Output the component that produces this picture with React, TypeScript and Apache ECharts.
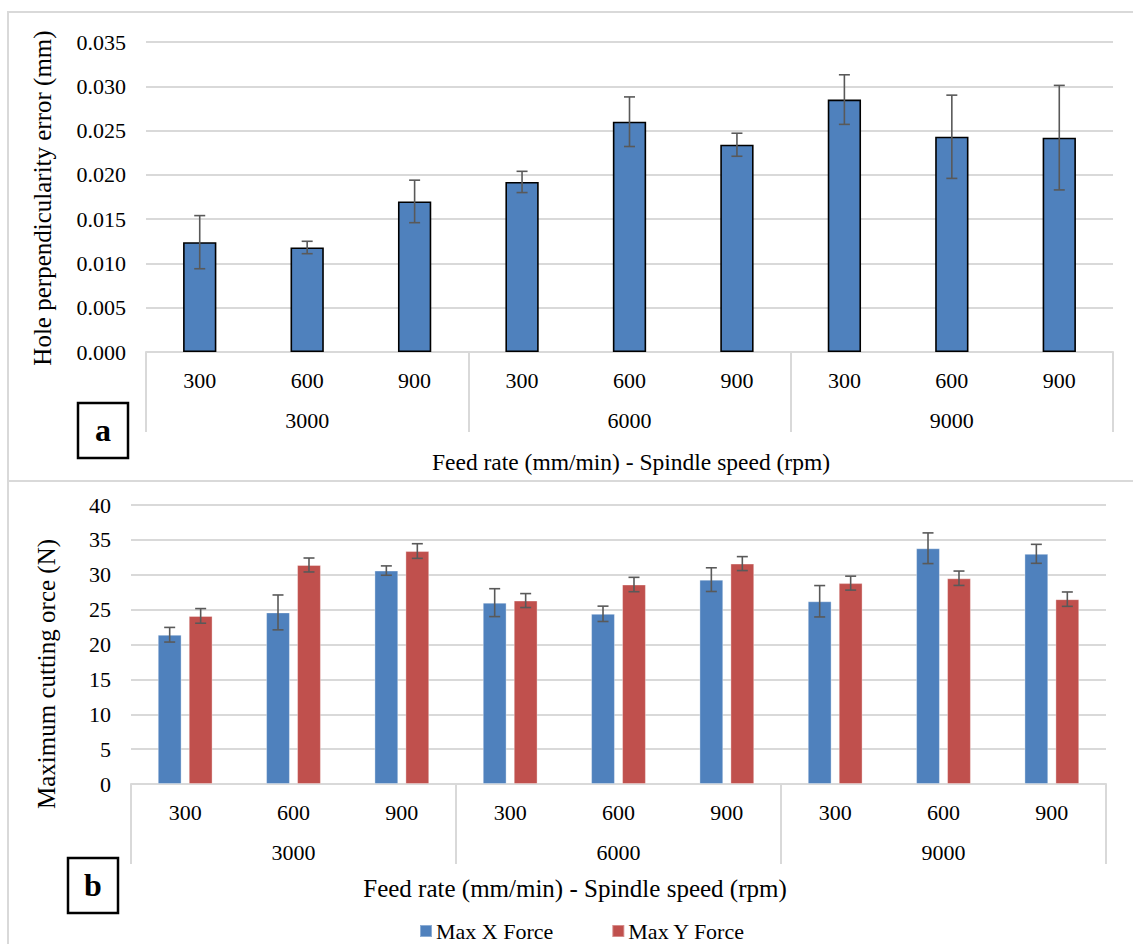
import React, { useEffect, useRef } from "react";
import * as echarts from "echarts";

// Feed rate (mm/min) categories, grouped by spindle speed (rpm)
const feedRates = ["300", "600", "900", "300", "600", "900", "300", "600", "900"];
const spindleSpeeds = ["3000", "6000", "9000"];

// (a) Hole perpendicularity error (mm): mean and standard deviation
const perpError = [0.0124, 0.0118, 0.0170, 0.0192, 0.0260, 0.0234, 0.0285, 0.0243, 0.0242];
const perpErrorSd = [0.0030, 0.0007, 0.0024, 0.0012, 0.0028, 0.0013, 0.0028, 0.0047, 0.0059];

// (b) Maximum cutting force (N): mean and standard deviation
const maxXForce = [21.4, 24.6, 30.6, 26.0, 24.4, 29.3, 26.2, 33.8, 33.0];
const maxXForceSd = [1.05, 2.5, 0.67, 2.0, 1.1, 1.7, 2.25, 2.2, 1.36];
const maxYForce = [24.1, 31.4, 33.4, 26.3, 28.6, 31.6, 28.8, 29.5, 26.5];
const maxYForceSd = [1.05, 1.0, 1.05, 1.0, 1.03, 1.0, 1.0, 1.03, 1.03];

const FONT = "Liberation Serif, Times New Roman, DejaVu Serif, serif";
const GRID_GRAY = "#d9d9d9";
const ERR_COLOR = "#595959";
const BLUE = "#4F81BD";
const RED = "#C0504D";

// Error bar renderer; offsetFrac shifts the bar centre as a fraction of the band width
const makeErrorBars = (offsetFrac: number) => (params: any, api: any) => {
  const x = api.value(0);
  const v = api.value(1);
  const e = api.value(2);
  const hi = api.coord([x, v + e]);
  const lo = api.coord([x, v - e]);
  const bw = api.size([1, 0])[0];
  const cx = hi[0] + offsetFrac * bw;
  const half = 5.5;
  const style = { stroke: ERR_COLOR, lineWidth: 1.6 };
  return {
    type: "group",
    children: [
      { type: "line", shape: { x1: cx, y1: hi[1], x2: cx, y2: lo[1] }, style },
      { type: "line", shape: { x1: cx - half, y1: hi[1], x2: cx + half, y2: hi[1] }, style },
      { type: "line", shape: { x1: cx - half, y1: lo[1], x2: cx + half, y2: lo[1] }, style },
    ],
  };
};

const errData = (vals: number[], sds: number[]) => vals.map((v, i) => [i, v, sds[i]]);

const innerAxis = (gridIndex: number) => ({
  type: "category",
  gridIndex,
  position: "bottom",
  data: feedRates,
  axisLine: { show: true, lineStyle: { color: GRID_GRAY, width: 2 } },
  axisTick: { show: false },
  axisLabel: { fontFamily: FONT, fontSize: 22, color: "#000", margin: 17, interval: 0 },
});

const outerAxis = (gridIndex: number) => ({
  type: "category",
  gridIndex,
  position: "bottom",
  data: spindleSpeeds,
  axisLine: { show: false },
  axisTick: { show: true, length: 80, interval: 0, lineStyle: { color: GRID_GRAY, width: 2 } },
  axisLabel: { fontFamily: FONT, fontSize: 22, color: "#000", margin: 57, interval: 0 },
});

const valueAxis = (gridIndex: number, max: number, interval: number, fmt: (v: number) => string) => ({
  type: "value",
  gridIndex,
  min: 0,
  max,
  interval,
  axisLine: { show: false },
  axisTick: { show: false },
  splitLine: { lineStyle: { color: GRID_GRAY, width: 2 } },
  axisLabel: { fontFamily: FONT, fontSize: 22, color: "#000", margin: 20, formatter: fmt },
});

const titleText = (text: string, x: number, y: number, size: number, vertical = false) => ({
  type: "text",
  x,
  y,
  rotation: vertical ? Math.PI / 2 : 0,
  style: {
    text,
    fontFamily: FONT,
    fontSize: size,
    fill: "#000",
    align: "center",
    verticalAlign: "middle",
  },
});

const labelBox = (letter: string, x: number, y: number) => [
  {
    type: "rect",
    shape: { x, y, width: 50, height: 55 },
    style: { fill: "#fff", stroke: "#000", lineWidth: 2.5 },
    z: 10,
  },
  {
    type: "text",
    x: x + 25,
    y: y + 27,
    style: {
      text: letter,
      fontFamily: FONT,
      fontSize: 32,
      fontWeight: "bold",
      fill: "#000",
      align: "center",
      verticalAlign: "middle",
    },
    z: 11,
  },
];

export default function App() {
  const ref = useRef<HTMLDivElement>(null);

  useEffect(() => {
    if (!ref.current) return;
    const chart = echarts.init(ref.current, null, { renderer: "svg" });
    chart.setOption({
      animation: false,
      backgroundColor: "#fff",
      textStyle: { fontFamily: FONT },
      grid: [
        { left: 146, right: 20, top: 42, height: 310 },
        { left: 131, right: 27, top: 505, height: 279 },
      ],
      xAxis: [innerAxis(0), outerAxis(0), innerAxis(1), outerAxis(1)],
      yAxis: [
        valueAxis(0, 0.035, 0.005, (v: number) => v.toFixed(3)),
        valueAxis(1, 40, 5, (v: number) => String(v)),
      ],
      legend: {
        data: ["Max X Force", "Max Y Force"],
        left: 419,
        top: 920,
        padding: 0,
        icon: "rect",
        itemWidth: 12,
        itemHeight: 12,
        itemGap: 58,
        textStyle: { fontFamily: FONT, fontSize: 22, color: "#000", padding: [0, 0, 0, -1] },
      },
      series: [
        {
          name: "Perpendicularity error",
          type: "bar",
          xAxisIndex: 0,
          yAxisIndex: 0,
          data: perpError,
          barWidth: "31%",
          itemStyle: { color: BLUE, borderColor: "#000", borderWidth: 1.6 },
        },
        {
          type: "custom",
          xAxisIndex: 0,
          yAxisIndex: 0,
          data: errData(perpError, perpErrorSd),
          encode: { x: 0, y: 1 },
          renderItem: makeErrorBars(0),
          z: 5,
        },
        {
          name: "Max X Force",
          type: "bar",
          xAxisIndex: 2,
          yAxisIndex: 1,
          data: maxXForce,
          barWidth: "22%",
          barGap: "30%",
          itemStyle: { color: BLUE, borderColor: "rgba(255,255,255,0.35)", borderWidth: 1 },
        },
        {
          name: "Max Y Force",
          type: "bar",
          xAxisIndex: 2,
          yAxisIndex: 1,
          data: maxYForce,
          barWidth: "22%",
          barGap: "30%",
          itemStyle: { color: RED, borderColor: "rgba(255,255,255,0.35)", borderWidth: 1 },
        },
        {
          type: "custom",
          xAxisIndex: 2,
          yAxisIndex: 1,
          data: errData(maxXForce, maxXForceSd),
          encode: { x: 0, y: 1 },
          renderItem: makeErrorBars(-0.143),
          z: 5,
        },
        {
          type: "custom",
          xAxisIndex: 2,
          yAxisIndex: 1,
          data: errData(maxYForce, maxYForceSd),
          encode: { x: 0, y: 1 },
          renderItem: makeErrorBars(0.143),
          z: 5,
        },
      ],
      graphic: [
        // panel frames
        {
          type: "rect",
          shape: { x: 8, y: 12, width: 1140, height: 469 },
          style: { fill: "none", stroke: GRID_GRAY, lineWidth: 2 },
          silent: true,
        },
        {
          type: "rect",
          shape: { x: 8, y: 481, width: 1140, height: 480 },
          style: { fill: "none", stroke: GRID_GRAY, lineWidth: 2 },
          silent: true,
        },
        // axis titles
        titleText("Hole perpendicularity error (mm)", 42, 198, 25, true),
        titleText("Feed rate (mm/min) - Spindle speed (rpm)", 631, 462, 23.5),
        titleText("Maximum cutting orce (N)", 46, 674, 25, true),
        titleText("Feed rate (mm/min) - Spindle speed (rpm)", 575, 888, 25),
        ...labelBox("a", 78, 403),
        ...labelBox("b", 68, 858),
      ],
    });
    return () => chart.dispose();
  }, []);

  return (
    <div
      ref={ref}
      style={{ position: "fixed", left: 0, top: 0, width: 1133, height: 944, background: "#fff" }}
    />
  );
}
